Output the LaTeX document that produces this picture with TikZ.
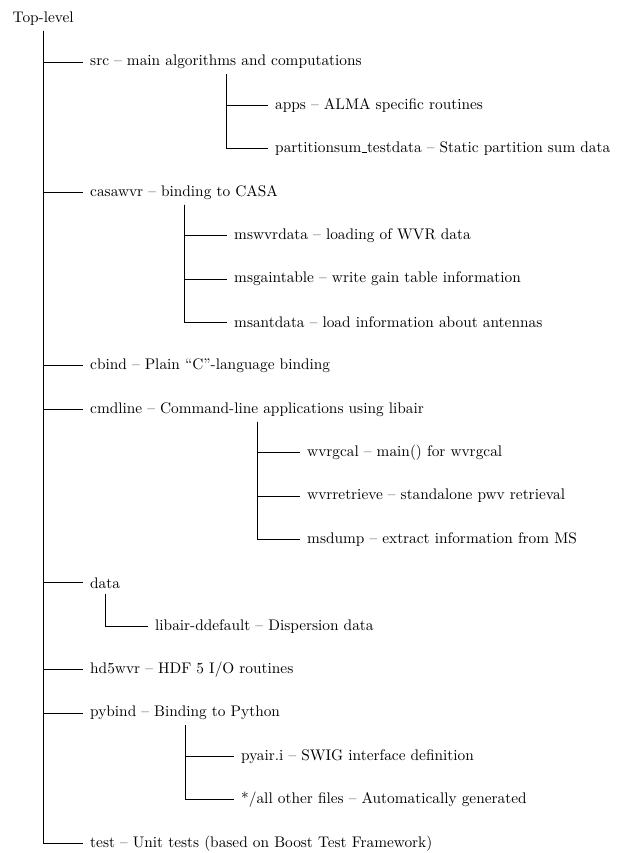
\documentclass[tikz,border=0pt]{standalone}
\newcommand\usc{\leavevmode\kern.06em\vbox{\hrule width.3em}}
\begin{document}
\begin{tikzpicture}[x=0.6515pt,y=-0.6515pt,
  every node/.style={anchor=west,inner xsep=4.5pt},
  branch/.style={line width=0.5pt}]
\useasboundingbox (0,0) rectangle (616,853);
\node (top) at(5.5,18.6){Top-level};
% first level
\node (src) at(83,62.0){src -- main algorithms and computations};
\node (casawvr) at(83,192.2){casawvr -- binding to CASA};
\node (cbind) at(83,365.8){cbind -- Plain ``C''-language binding};
\node (cmdline) at(83,409.2){cmdline -- Command-line applications using libair};
\node (data) at(83,582.8){data};
\node (hdwvr) at(83,669.6){hd5wvr -- HDF 5 I/O routines};
\node (pybind) at(83,713.0){pybind -- Binding to Python};
\node (test) at(83,843.2){test -- Unit tests (based on Boost Test Framework)};
% second level
\node (apps) at(268,105.4){apps -- ALMA specific routines};
\node (partsum) at(268,148.8){partitionsum\usc testdata -- Static partition sum data};
\node (mswvrdata) at(227,235.6){mswvrdata -- loading of WVR data};
\node (msgaintable) at(227,279.0){msgaintable -- write gain table information};
\node (msantdata) at(227,322.4){msantdata -- load information about antennas};
\node (wvrgcal) at(300,452.6){wvrgcal -- main() for wvrgcal};
\node (wvrretrieve) at(300,496.0){wvrretrieve -- standalone pwv retrieval};
\node (msdump) at(300,539.4){msdump -- extract information from MS};
\node (libair) at(148,626.2){libair-ddefault -- Dispersion data};
\node (pyair) at(234,756.4){pyair.i -- SWIG interface definition};
\node (pyother) at(234,799.8){*/all other files -- Automatically generated};
% branches
\foreach \c in {src,casawvr,cbind,cmdline,data,hdwvr,pybind,test}
  \draw[branch] (top.south) |- (\c.west);
\foreach \c in {apps,partsum}
  \draw[branch] (src.south) |- (\c.west);
\foreach \c in {mswvrdata,msgaintable,msantdata}
  \draw[branch] (casawvr.south) |- (\c.west);
\foreach \c in {wvrgcal,wvrretrieve,msdump}
  \draw[branch] (cmdline.south) |- (\c.west);
\draw[branch] (data.south) |- (libair.west);
\foreach \c in {pyair,pyother}
  \draw[branch] (pybind.south) |- (\c.west);
\end{tikzpicture}
\end{document}
